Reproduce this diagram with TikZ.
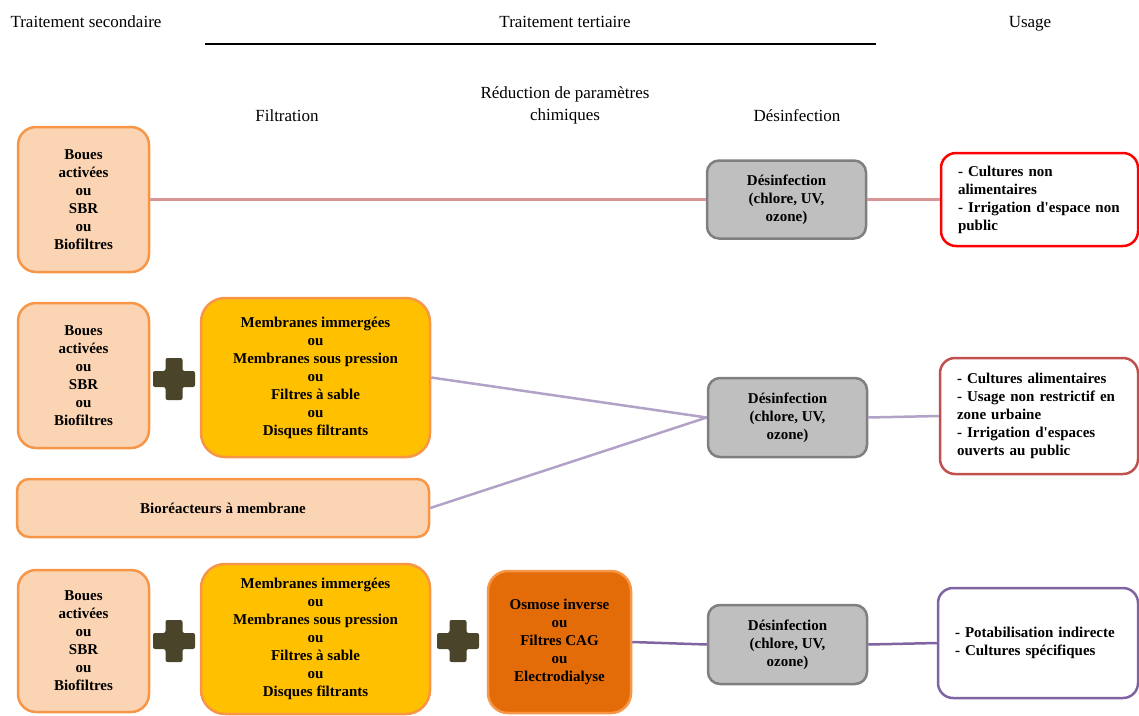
\documentclass[tikz,border=0pt]{standalone}
\usepackage{fontspec}
\setmainfont{Liberation Serif}
\definecolor{peach}{HTML}{FBD4B4}
\definecolor{orangeb}{HTML}{F79646}
\definecolor{gold}{HTML}{FFC000}
\definecolor{darkor}{HTML}{E36C09}
\definecolor{grayfill}{HTML}{BFBFBF}
\definecolor{grayb}{HTML}{7F7F7F}
\definecolor{olive}{HTML}{4A452A}
\definecolor{redb}{HTML}{FF0000}
\definecolor{brickb}{HTML}{C0504D}
\definecolor{purpleb}{HTML}{8064A2}
\definecolor{lavender}{HTML}{B3A2C7}
\definecolor{pinkl}{HTML}{D99694}
\tikzset{
  head/.style={font=\fontsize{17}{22}\selectfont, align=center, inner sep=0pt},
  boxtext/.style={font=\bfseries\fontsize{15}{18}\selectfont, align=center, inner sep=0pt},
  secbox/.style={boxtext, fill=peach, draw=orangeb, line width=2.5pt, rounded corners=18pt},
  filtbox/.style={boxtext, fill=gold, draw=orangeb, line width=2.5pt, rounded corners=24pt},
  chembox/.style={boxtext, fill=darkor, draw=orangeb, line width=2.5pt, rounded corners=20pt},
  desbox/.style={boxtext, fill=grayfill, draw=grayb, line width=2.5pt, rounded corners=12pt},
  usebox/.style={boxtext, align=left, fill=white, line width=2.5pt, rounded corners=15pt, inner xsep=17pt},
  link/.style={line width=2.5pt},
  plussign/.pic={\fill[olive, rounded corners=2pt] (-8.5,-21) -- (8.5,-21) -- (8.5,-8) -- (21,-8) -- (21,8) -- (8.5,8) -- (8.5,21) -- (-8.5,21) -- (-8.5,8) -- (-21,8) -- (-21,-8) -- (-8.5,-8) -- cycle;}
}
\begin{document}
\begin{tikzpicture}[x=1pt,y=-1pt]
\useasboundingbox (0,0) rectangle (1139,715);
% headers
\node[head, anchor=base] (h1) at (86,27) {Traitement secondaire};
\node[head, anchor=base] (h2) at (565,27) {Traitement tertiaire};
\node[head, anchor=base] (h3) at (1030,27) {Usage};
\coordinate (r1) at (205,43.5);
\coordinate (r2) at (876,43.5);
\draw[line width=2pt] (r1) -- (r2);
\node[head, anchor=base] (h4) at (287,121) {Filtration};
\node[head] (h5) at (565,105) {Réduction de paramètres\\chimiques};
\node[head, anchor=base] (h6) at (797,121) {Désinfection};

% row 1
\node[secbox, minimum width=131pt, minimum height=145pt] (A1) at (83.5,199.5) {Boues\\activées\\ou\\SBR\\ou\\Biofiltres};
\node[desbox, minimum width=159pt, minimum height=78pt] (D1) at (786.5,199.5) {Désinfection\\(chlore, UV,\\ozone)};
\node[usebox, draw=redb, minimum width=197pt, minimum height=93pt, text width=163pt] (U1) at (1039.5,199.5) {- Cultures non\\alimentaires\\- Irrigation d\textquotesingle espace non\\public};
\draw[link, pinkl] (A1.east) -- (D1.west);
\draw[link, pinkl] (D1.east) -- (U1.west);

% row 2
\node[secbox, minimum width=131pt, minimum height=145pt] (A2) at (83.5,375.5) {Boues\\activées\\ou\\SBR\\ou\\Biofiltres};
\pic at (174,379) {plussign};
\node[filtbox, minimum width=229pt, minimum height=159pt] (F2) at (315.5,377.5) {Membranes immergées\\ou\\Membranes sous pression\\ou\\Filtres à sable\\ou\\Disques filtrants};
\node[secbox, rounded corners=12pt, minimum width=412pt, minimum height=58pt] (M2) at (223,508) {Bioréacteurs à membrane};
\node[desbox, minimum width=159pt, minimum height=79pt] (D2) at (787.5,417.5) {Désinfection\\(chlore, UV,\\ozone)};
\node[usebox, draw=brickb, minimum width=198pt, minimum height=116pt, text width=164pt] (U2) at (1039,416) {- Cultures alimentaires\\- Usage non restrictif en\\zone urbaine\\- Irrigation d\textquotesingle espaces\\ouverts au public};
\draw[link, lavender] (F2.east) -- (D2.west);
\draw[link, lavender] (M2.east) -- (D2.west);
\draw[link, lavender] (D2.east) -- (U2.west);

% row 3
\node[secbox, minimum width=131pt, minimum height=142pt] (A3) at (83.5,641) {Boues\\activées\\ou\\SBR\\ou\\Biofiltres};
\pic at (174,641) {plussign};
\node[filtbox, minimum width=229pt, minimum height=150pt] (F3) at (315.5,639) {Membranes immergées\\ou\\Membranes sous pression\\ou\\Filtres à sable\\ou\\Disques filtrants};
\pic at (458,641) {plussign};
\node[chembox, minimum width=143pt, minimum height=142pt] (O3) at (559.5,642) {Osmose inverse\\ou\\Filtres CAG\\ou\\Electrodialyse};
\node[desbox, minimum width=159pt, minimum height=79pt] (D3) at (787.5,644.5) {Désinfection\\(chlore, UV,\\ozone)};
\node[usebox, draw=purpleb, minimum width=200pt, minimum height=110pt, text width=166pt] (U3) at (1038,643) {- Potabilisation indirecte\\- Cultures spécifiques};
\draw[link, purpleb] (O3.east) -- (D3.west);
\draw[link, purpleb] (D3.east) -- (U3.west);
\end{tikzpicture}
\end{document}
